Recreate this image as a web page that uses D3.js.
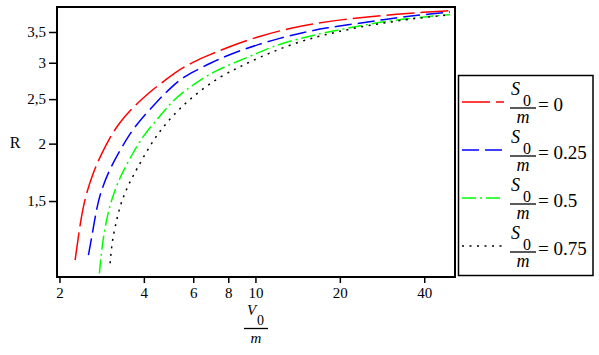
<!DOCTYPE html>
<html>
<head>
<meta charset="utf-8">
<script src="https://cdn.jsdelivr.net/npm/d3@7"></script>
<style>
body { margin: 0; background: #fff; }
</style>
</head>
<body>
<svg id="chart" width="599" height="355"></svg>
<script>
// values (log-log plot of R against V0/m)
var xTicks = [2, 4, 6, 8, 10, 20, 40];
var yTicks = [1.5, 2, 2.5, 3, 3.5];
var s0Labels = ["0", "0.25", "0.5", "0.75"];

var vS0 = [2.275, 2.370, 2.470, 2.644, 2.793, 3.032, 3.292, 3.671, 4.270, 4.696, 5.243, 6.007,
           6.890, 7.902, 10.11, 13.65, 16.54, 20.58, 25.62, 31.90, 39.68, 49.40];
var rS0 = [1.116, 1.341, 1.533, 1.737, 1.873, 2.070, 2.232, 2.406, 2.616, 2.728, 2.875, 3.015,
           3.125, 3.235, 3.418, 3.582, 3.655, 3.727, 3.780, 3.824, 3.863, 3.894];

var vS025 = [2.537, 2.609, 2.719, 2.833, 3.032, 3.292, 3.573, 3.879, 4.507, 4.962, 5.534, 6.522,
             7.279, 8.578, 10.11, 11.91, 14.82, 17.96, 22.97, 28.57, 35.57, 41.92, 49.40];
var rS025 = [1.144, 1.254, 1.458, 1.599, 1.767, 1.937, 2.106, 2.251, 2.489, 2.639, 2.797, 2.941,
             3.041, 3.170, 3.279, 3.380, 3.494, 3.576, 3.650, 3.725, 3.790, 3.830, 3.870];

var vS05 = [2.777, 2.833, 2.951, 3.115, 3.338, 3.623, 3.985, 4.507, 4.962, 5.534, 6.347, 7.279,
            8.578, 10.11, 11.28, 13.65, 16.54, 20.58, 24.93, 31.02, 37.59, 44.28, 49.40];
var rS05 = [1.044, 1.193, 1.386, 1.559, 1.723, 1.889, 2.088, 2.271, 2.448, 2.594, 2.751, 2.892,
            3.015, 3.142, 3.240, 3.362, 3.459, 3.553, 3.635, 3.710, 3.759, 3.797, 3.820];

var vS075 = [3.032, 3.075, 3.159, 3.292, 3.478, 3.671, 3.933, 4.327, 4.696, 5.098, 5.691, 6.522,
             7.479, 8.578, 9.568, 11.28, 13.65, 16.54, 19.49, 23.60, 28.57, 34.62, 39.68, 45.51, 49.40];
var rS075 = [1.098, 1.213, 1.319, 1.470, 1.599, 1.709, 1.842, 2.037, 2.177, 2.308, 2.467, 2.639,
             2.797, 2.917, 3.015, 3.155, 3.300, 3.418, 3.500, 3.590, 3.660, 3.725, 3.762, 3.797, 3.815];

var colors = ["#ff0000", "#0000ff", "#00ff00", "#000000"];
var dashes = ["28 6", "17 6", "14 4 2 4", "2 5.5"];

var series = [[vS0, rS0], [vS025, rS025], [vS05, rS05], [vS075, rS075]].map(function(s, i) {
    return {
        label: s0Labels[i], color: colors[i], dash: dashes[i],
        points: s[0].map(function(v, j) { return {v: v, r: s[1][j]}; })
    };
});

var svg = d3.select("#chart");
var plotL = 57, plotT = 7, plotR = 455, plotB = 277;
var serif = "'Liberation Serif'";

var x = d3.scaleLog().domain([1.96, 51.5]).range([plotL, plotR]);
var y = d3.scaleLog().domain([1.025, 3.967]).range([plotB, plotT]);

svg.append("defs").append("clipPath").attr("id", "plotClip")
    .append("rect").attr("x", plotL).attr("y", plotT)
    .attr("width", plotR - plotL).attr("height", plotB - plotT);

// axes
var xAxis = svg.append("g")
    .attr("transform", "translate(0," + plotB + ")")
    .call(d3.axisBottom(x).tickValues(xTicks).tickSize(6).tickPadding(4)
          .tickFormat(d3.format("d")));
var yAxis = svg.append("g")
    .attr("transform", "translate(" + plotL + ",0)")
    .call(d3.axisLeft(y).tickValues(yTicks).tickSize(8).tickPadding(3)
          .tickFormat(function(d) { return String(d).replace(".", ","); }));
[xAxis, yAxis].forEach(function(a) {
    a.select(".domain").remove();
    a.selectAll("line").attr("stroke", "#000").attr("stroke-width", 1.5);
    a.selectAll("text").style("font-family", serif).style("font-size", "15px")
        .attr("fill", "#000");
});

// curves
var line = d3.line()
    .x(function(d) { return x(d.v); })
    .y(function(d) { return y(d.r); })
    .curve(d3.curveBasis);

svg.append("g").attr("clip-path", "url(#plotClip)")
    .selectAll("path")
    .data(series)
    .enter().append("path")
    .attr("d", function(d) { return line(d.points); })
    .attr("fill", "none")
    .attr("stroke", function(d) { return d.color; })
    .attr("stroke-width", 1.5)
    .attr("stroke-dasharray", function(d) { return d.dash; });

// frame
svg.append("rect")
    .attr("x", plotL).attr("y", plotT)
    .attr("width", plotR - plotL).attr("height", plotB - plotT)
    .attr("fill", "none").attr("stroke", "#000").attr("stroke-width", 2);

// axis titles
function label(g, tx, ty, size, txt, italic, anchor) {
    return g.append("text").attr("x", tx).attr("y", ty)
        .attr("text-anchor", anchor || "start")
        .style("font-family", serif).style("font-size", size + "px")
        .style("font-style", italic ? "italic" : "normal")
        .text(txt);
}

label(svg, 15, 148, 16, "R", false, "middle");

var xt = svg.append("g");
label(xt, 247, 315, 15, "V", true);
label(xt, 257, 325, 14, "0", false);
xt.append("line").attr("x1", 244).attr("x2", 268).attr("y1", 328.5).attr("y2", 328.5)
    .attr("stroke", "#000").attr("stroke-width", 1.3);
label(xt, 256, 343, 15, "m", true, "middle");

// legend
svg.append("rect")
    .attr("x", 458.5).attr("y", 75.5).attr("width", 134.5).attr("height", 200)
    .attr("fill", "none").attr("stroke", "#000").attr("stroke-width", 1.5);

var entry = svg.append("g").selectAll("g")
    .data(series)
    .enter().append("g")
    .attr("transform", function(d, i) { return "translate(0," + (108 + 48 * i) + ")"; });

entry.append("line")
    .attr("x1", 462).attr("x2", 504).attr("y1", -6).attr("y2", -6)
    .attr("stroke", function(d) { return d.color; })
    .attr("stroke-width", 1.5)
    .attr("stroke-dasharray", function(d) { return d.dash; });

entry.each(function(d) {
    var g = d3.select(this);
    label(g, 511, -13, 18, "S", true);
    label(g, 523, -2, 16, "0", false);
    g.append("line").attr("x1", 510).attr("x2", 536).attr("y1", 0).attr("y2", 0)
        .attr("stroke", "#000").attr("stroke-width", 1.3);
    label(g, 523, 15, 18, "m", true, "middle");
    label(g, 538, 3, 19, "= " + d.label, false);
});
</script>
</body>
</html>
